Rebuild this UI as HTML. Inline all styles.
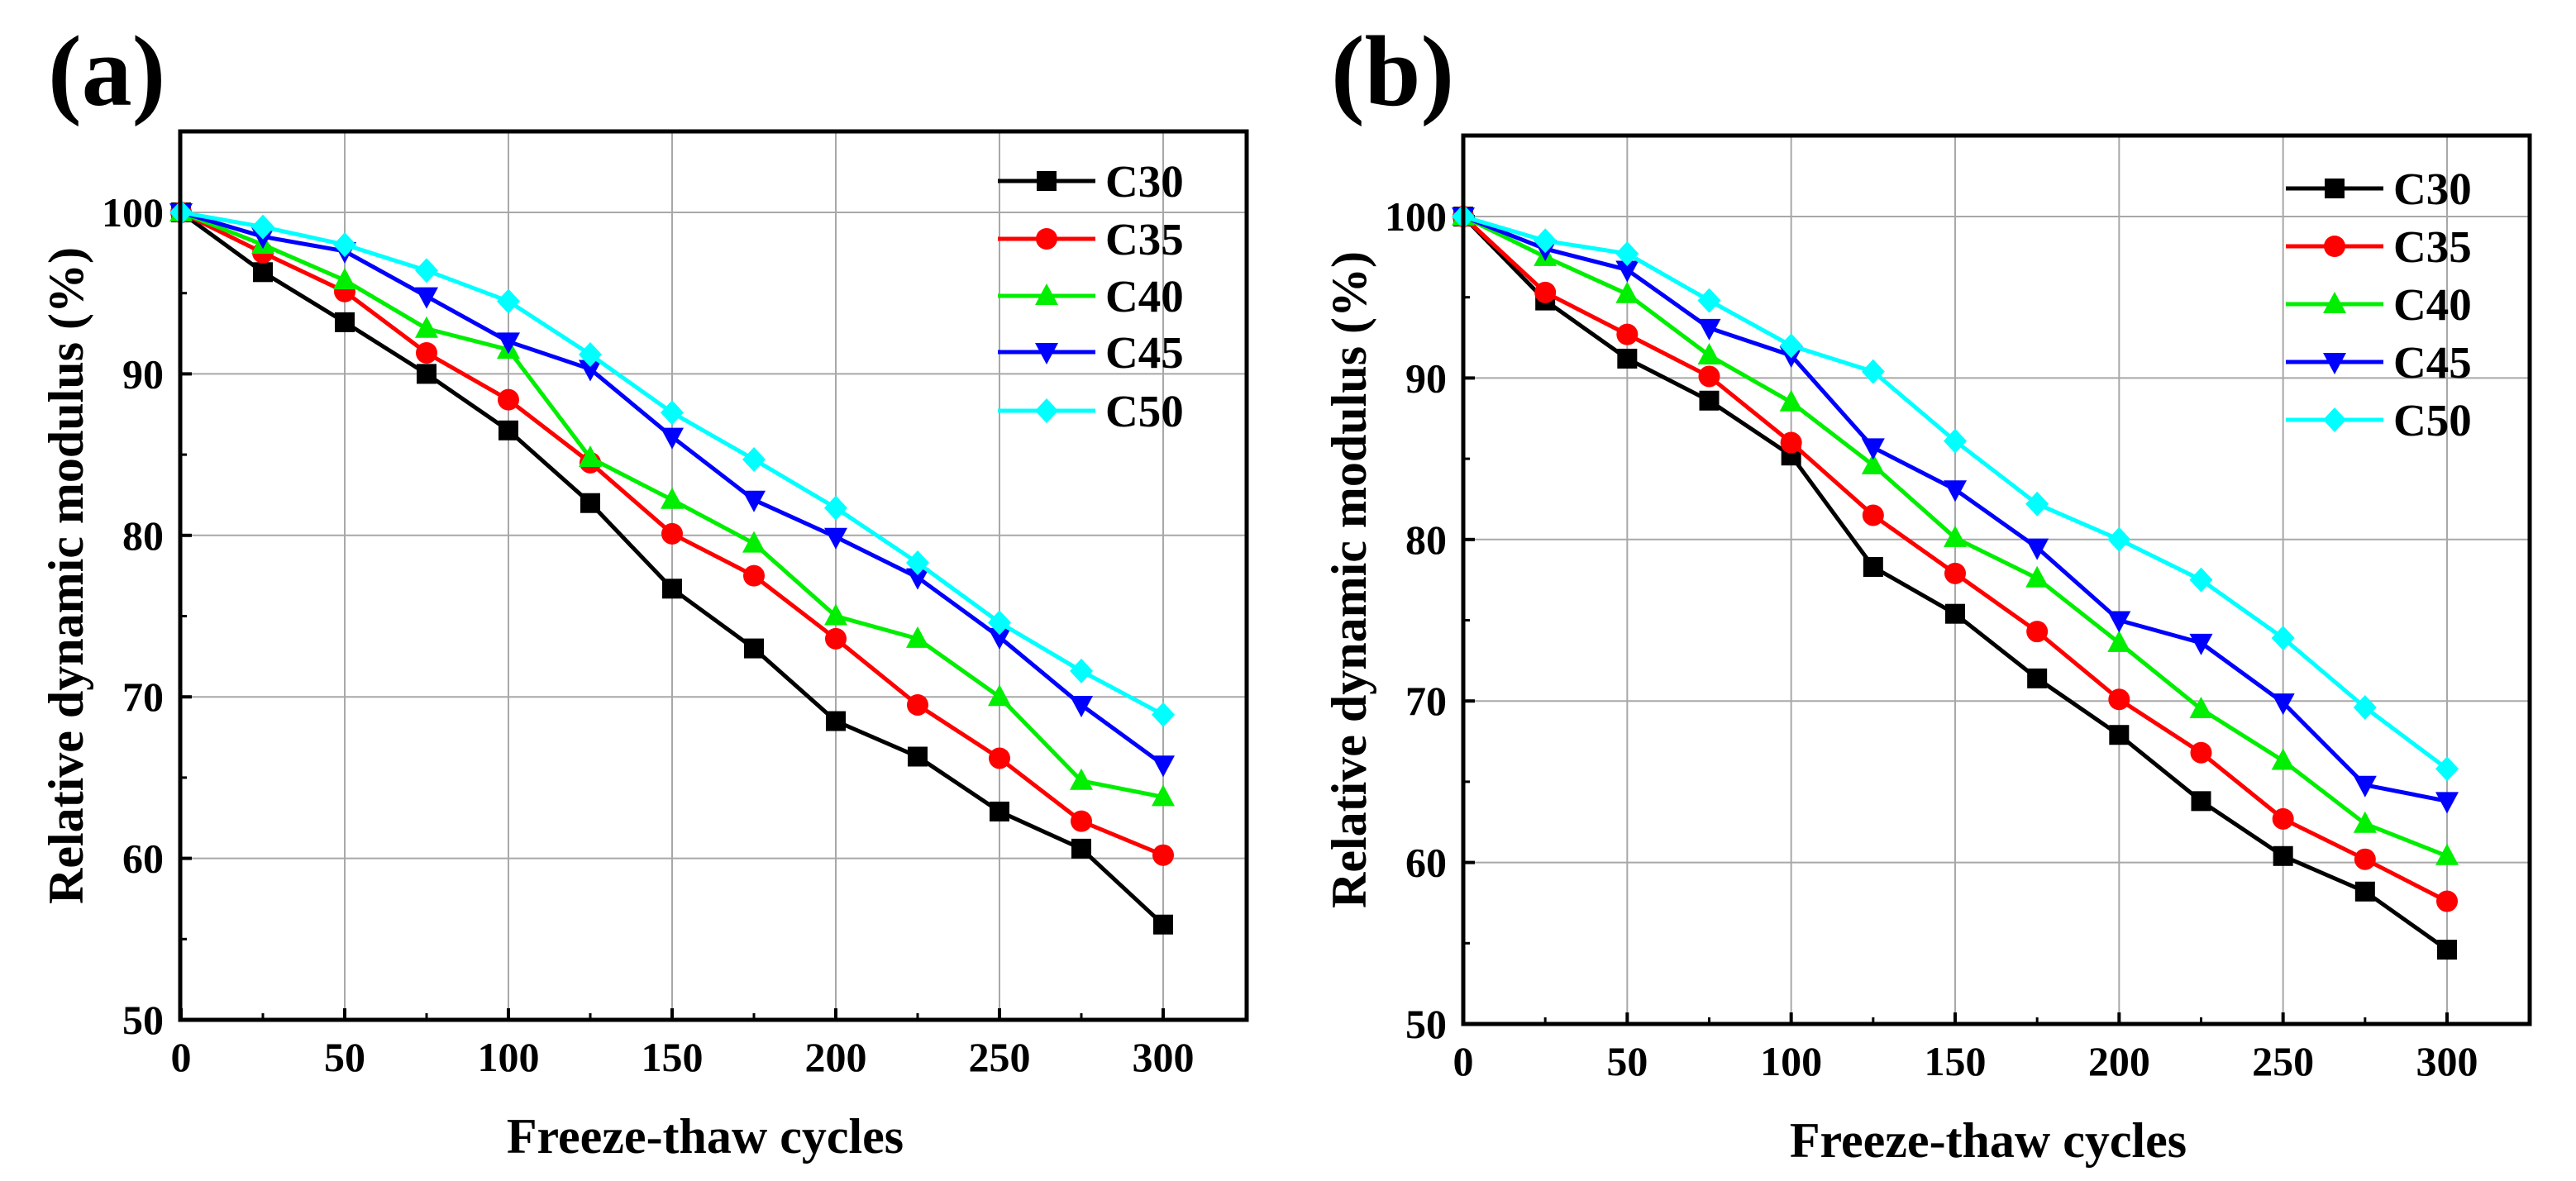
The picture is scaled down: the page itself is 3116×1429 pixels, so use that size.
<!DOCTYPE html>
<html><head><meta charset="utf-8"><style>
html,body{margin:0;padding:0;background:#fff;}
svg text{font-family:"Liberation Serif",serif;font-weight:bold;fill:#000;}
</style></head><body>
<svg id="chart" width="3116" height="1424" viewBox="0 0 3116 1424" xmlns="http://www.w3.org/2000/svg"></svg>
<script>
const xCats = [0,25,50,75,100,125,150,175,200,225,250,275,300];
const seriesNames = ["C30","C35","C40","C45","C50"];
const seriesColors = ["#000000","#ff0000","#00ee00","#0000ff","#00ffff"];
const seriesMarkers = ["square","circle","triangle","tridown","diamond"];
const xTicks = [0,50,100,150,200,250,300];
const yTicks = [50,60,70,80,90,100];
const aC30 = [100,96.3,93.2,90,86.5,82,76.7,73,68.5,66.3,62.9,60.6,55.9];
const aC35 = [100,97.5,95.1,91.3,88.4,84.5,80.1,77.5,73.6,69.5,66.2,62.3,60.2];
const aC40 = [100,98,95.8,92.8,91.5,84.8,82.2,79.5,75,73.6,70,64.8,63.8];
const aC45 = [100,98.5,97.6,94.8,92,90.3,86.1,82.2,79.9,77.4,73.7,69.5,65.8];
const aC50 = [100,99.1,98,96.4,94.5,91.2,87.6,84.7,81.7,78.3,74.6,71.6,68.9];
const bC30 = [100,94.8,91.2,88.6,85.2,78.3,75.4,71.4,67.9,63.8,60.4,58.2,54.6];
const bC35 = [100,95.3,92.7,90.1,86,81.5,77.9,74.3,70.1,66.8,62.7,60.2,57.6];
const bC40 = [100,97.5,95.2,91.4,88.5,84.6,80.1,77.6,73.6,69.5,66.3,62.4,60.4];
const bC45 = [100,98,96.7,93.1,91.4,85.7,83.1,79.5,75,73.6,69.9,64.8,63.8];
const bC50 = [100,98.5,97.7,94.8,92,90.4,86.1,82.2,80,77.5,73.9,69.6,65.8];

const NS="http://www.w3.org/2000/svg";
const svg=document.getElementById('chart');
function mk(tag,attrs,parent){const e=document.createElementNS(NS,tag);for(const k in attrs)e.setAttribute(k,attrs[k]);(parent||svg).appendChild(e);return e;}

function panel(id,letter,L,R,T,B,x0px,x300px,y100px,y50px,data,legX,legY){
  const g=mk('g',{});
  
  
  const sx=v=>x0px+(x300px-x0px)*v/300;
  const sy=v=>y50px+(y100px-y50px)*(v-50)/50;
  xTicks.forEach(t=>{if(t===0)return;const l=mk('line',{x1:sx(t),x2:sx(t),y1:T,y2:B,stroke:'#a8a8a8','stroke-width':2},g);
    });
  yTicks.forEach(t=>{if(t===50)return;const l=mk('line',{x1:L,x2:R,y1:sy(t),y2:sy(t),stroke:'#a8a8a8','stroke-width':2},g);
    });
  xTicks.forEach(t=>{mk('line',{x1:sx(t),x2:sx(t),y1:B,y2:B-14,stroke:'#000','stroke-width':4},g);
    const tx=mk('text',{x:sx(t),y:B+62,'font-size':50,'text-anchor':'middle'},g);tx.textContent=t;
    });
  [25,75,125,175,225,275].forEach(t=>mk('line',{x1:sx(t),x2:sx(t),y1:B,y2:B-8,stroke:'#000','stroke-width':3},g));
  yTicks.forEach(t=>{mk('line',{x1:L,x2:L+14,y1:sy(t),y2:sy(t),stroke:'#000','stroke-width':4},g);
    const tx=mk('text',{x:L-20,y:sy(t)+17,'font-size':50,'text-anchor':'end'},g);tx.textContent=t;
    });
  [55,65,75,85,95].forEach(t=>mk('line',{x1:L,x2:L+8,y1:sy(t),y2:sy(t),stroke:'#000','stroke-width':3},g));
  data.forEach((vals,si)=>{
    const sg=mk('g',{},g);
    
    
    const pts=vals.map((v,i)=>sx(xCats[i])+','+sy(v)).join(' ');
    mk('polyline',{points:pts,fill:'none',stroke:seriesColors[si],'stroke-width':5},sg);
    vals.forEach((v,i)=>{const m=marker(sg,seriesMarkers[si],sx(xCats[i]),sy(v),seriesColors[si]);
      });
  });
  const fr=mk('rect',{x:L,y:T,width:R-L,height:B-T,fill:'none',stroke:'#000','stroke-width':5},g);
  
  const lg=mk('g',{},g);
  
  seriesNames.forEach((n,si)=>{
    const y=legY[si];
    const e=mk('g',{},lg);
    
    mk('line',{x1:legX,x2:legX+118,y1:y,y2:y,stroke:seriesColors[si],'stroke-width':5},e);
    marker(e,seriesMarkers[si],legX+59,y,seriesColors[si]);
    const t=mk('text',{x:legX+130,y:y+19,'font-size':55},e);t.textContent=n;
  });
  const yt=mk('text',{x:0,y:0,'font-size':60,'text-anchor':'middle',transform:`translate(${L-118},${(T+B)/2}) rotate(-90)`},g);
  yt.textContent='Relative dynamic modulus (%)';
  
  const xt=mk('text',{x:(L+R)/2-10,y:B+161,'font-size':60,'text-anchor':'middle'},g);
  xt.textContent='Freeze-thaw cycles';
  
  const pl=mk('text',{x:L-160,y:127,'font-size':122},g);
  pl.textContent=letter;
  
}
function marker(p,type,x,y,c){
  const s=12;
  if(type==='square')return mk('rect',{x:x-s,y:y-s,width:2*s,height:2*s,fill:c},p);
  if(type==='circle')return mk('circle',{cx:x,cy:y,r:s+1,fill:c},p);
  if(type==='triangle')return mk('polygon',{points:`${x},${y-s-3} ${x-s-2},${y+s-1} ${x+s+2},${y+s-1}`,fill:c},p);
  if(type==='tridown')return mk('polygon',{points:`${x},${y+s+3} ${x-s-2},${y-s+1} ${x+s+2},${y-s+1}`,fill:c},p);
  return mk('polygon',{points:`${x},${y-s-3} ${x+s+2},${y} ${x},${y+s+3} ${x-s-2},${y}`,fill:c},p);
}
panel('a','(a)',218,1508,159,1234,219,1407,257,1234,[aC30,aC35,aC40,aC45,aC50],1207,[219,289,358,426,497]);
panel('b','(b)',1770,3060,164,1239,1770,2960,262,1239,[bC30,bC35,bC40,bC45,bC50],2765,[228,298,368,438,508]);
</script>
</body></html>
